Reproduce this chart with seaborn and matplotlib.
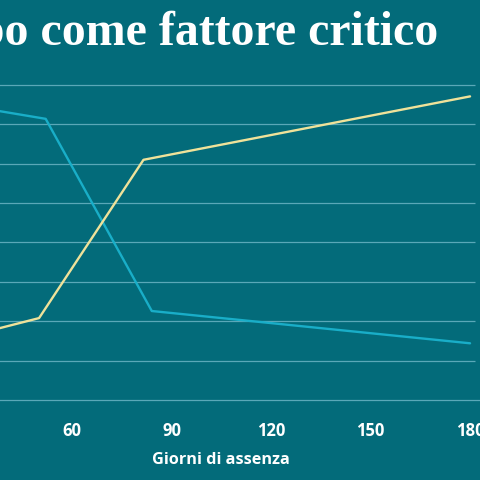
import numpy as np
import pandas as pd
import matplotlib
matplotlib.use("Agg")
import matplotlib.pyplot as plt
import seaborn as sns

# values (left part of the chart is cropped away)
blue_days = [30, 52, 84, 180]
blue_vals = [74.5, 71.4, 22.6, 14.4]
yellow_days = [30, 50, 81.5, 180]
yellow_vals = [16.5, 20.8, 61.0, 77.1]
xticks = [30, 60, 90, 120, 150, 180]
yticks = [0, 10, 20, 30, 40, 50, 60, 70, 80]

bg = "#036b7a"
grid_col = "#5aa8b8"

df = pd.concat([
    pd.DataFrame({"giorni": blue_days, "valore": blue_vals, "serie": "a"}),
    pd.DataFrame({"giorni": yellow_days, "valore": yellow_vals, "serie": "b"}),
])

sns.set_theme(style="white")
plt.rcParams['font.family'] = ['Open Sans', 'DejaVu Sans']

fig = plt.figure(figsize=(4.8, 4.8), dpi=100, facecolor=bg)
# axes extends past the left edge, like the cropped reference
ax = fig.add_axes([-126.7 / 480, 80 / 480, 606.7 / 480, 322.9 / 480])
ax.set_facecolor(bg)

ax.hlines(yticks[1:], 0, 181.5, color=grid_col, lw=0.9, zorder=1)
sns.lineplot(data=df, x="giorni", y="valore", hue="serie",
             palette={"a": "#19aec8", "b": "#efe29a"}, lw=1.7,
             legend=False, ax=ax, zorder=3)

ax.set_xlim(0, 183)
ax.set_ylim(0, 82)
ax.set_xticks(xticks)
ax.set_yticks([])
for s in ["top", "right", "left"]:
    ax.spines[s].set_visible(False)
ax.spines["bottom"].set_color(grid_col)
ax.spines["bottom"].set_linewidth(0.9)
ax.tick_params(axis="x", direction="inout", length=15, width=0.9,
               color="#7dbccb", pad=8, labelsize=12, labelcolor="white")
for t in ax.get_xticklabels():
    t.set_fontweight("bold")

ax.set_xlabel("Giorni di assenza", color="white", fontsize=11.7,
              fontweight="bold")
ax.set_ylabel("")
ax.xaxis.set_label_coords((221 + 126.7) / 606.7, -0.186)
ax.xaxis.label.set_va("center")

fig.text(438 / 480, 1 - 45 / 480, "Il tempo come fattore critico",
         ha="right", va="baseline", color="white", fontsize=34.5,
         fontweight="bold", family=["Liberation Serif", "DejaVu Serif"])

fig.savefig("out.png", dpi=100, facecolor=bg)
